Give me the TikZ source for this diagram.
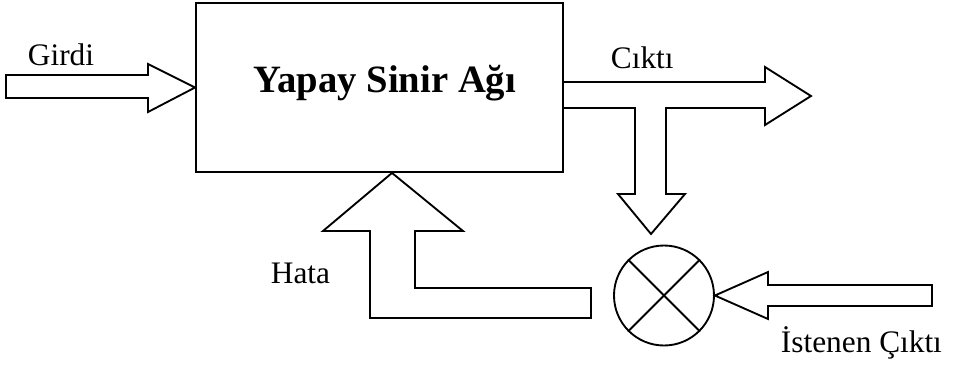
\documentclass[tikz,border=0pt]{standalone}
\usepackage{fontspec}
\setmainfont{Liberation Serif}
\begin{document}
\begin{tikzpicture}[x=0.75pt,y=-0.75pt,
  line width=1.4pt, line join=miter,
  lbl/.style={inner sep=0pt, anchor=base west, font=\fontsize{23.5}{28}\selectfont},
  blockbox/.style={draw, rectangle, inner sep=0pt, minimum width=275.25pt, minimum height=126.75pt},
  sumnode/.style={draw, circle, inner sep=0pt, minimum size=75pt}]
\useasboundingbox (0,0) rectangle (958,365);

% main block and summing junction
\node[blockbox] (nn) at (379.5,87.5) {};
\node[inner sep=0pt, anchor=base west, font=\fontsize{29}{34}\selectfont\bfseries] (title) at (253,92) {Yapay Sinir Ağı};
\node[sumnode] (sum) at (664,295.5) {};
\draw (sum.45) -- (sum.225);
\draw (sum.135) -- (sum.315);

% input arrow
\draw (6,75) -- (148,75) -- (148,64) -- (nn.west) -- (148,112) -- (148,98) -- (6,98) -- cycle;

% output arrow with branch down to the junction
\coordinate (outtip) at (811,96);
\coordinate (downtip) at (651,234);
\draw (nn.east |- 0,82) -- (765,82) -- (765,67) -- (outtip) -- (765,125) -- (765,108)
  -- (666,108) -- (666,194) -- (685,194) -- (downtip) -- (618,194) -- (635,194)
  -- (635,108) -- (nn.east |- 0,108);

% desired output arrow into the junction
\draw (932,285) -- (768,285) -- (768,272) -- (sum.east) -- (768,319) -- (768,306) -- (932,306) -- cycle;

% error feedback arrow
\coordinate (errtip) at (nn.south -| 392,0);
\draw (370,318) -- (370,231) -- (323,231) -- (errtip) -- (463,231) -- (415,231)
  -- (415,288) -- (591,288) -- (591,318) -- cycle;

% labels
\node[lbl] (girdi) at (27,65) {Girdi};
\node[lbl] (cikti) at (610,68) {Cıktı};
\node[lbl] (hata) at (270,283) {Hata};
\node[lbl] (istenen) at (780,352) {İstenen Çıktı};
\end{tikzpicture}
\end{document}
